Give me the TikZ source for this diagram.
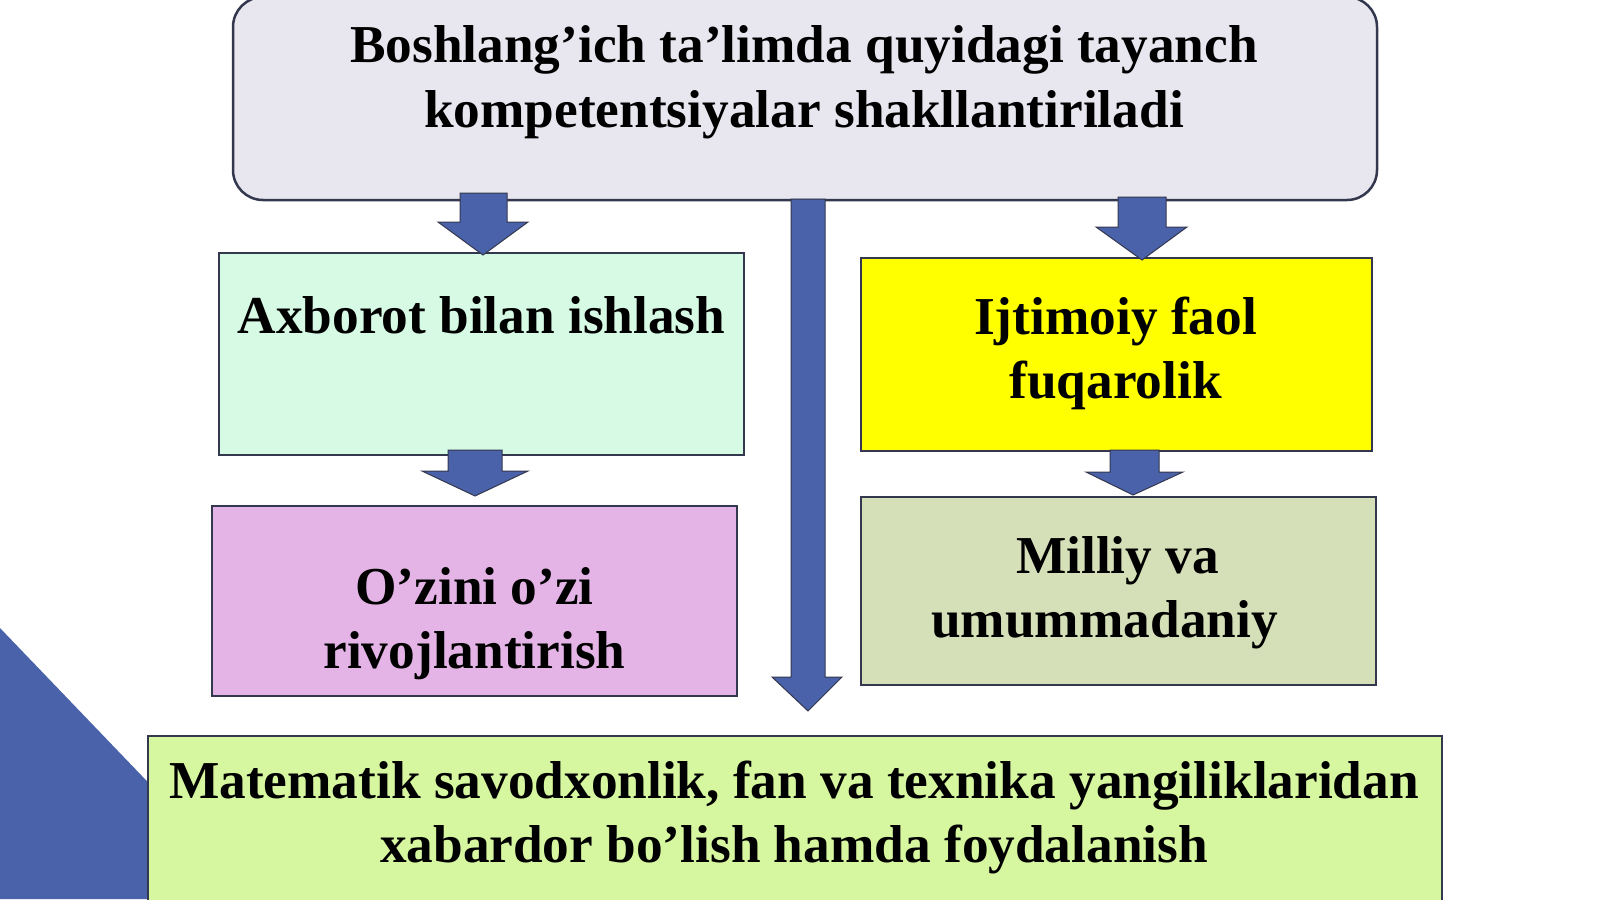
\documentclass[tikz,border=0pt]{standalone}
\usepackage{fontspec}
\setmainfont{Liberation Serif}
\definecolor{edge}{RGB}{52,56,78}
\definecolor{topfill}{RGB}{232,230,238}
\definecolor{mint}{RGB}{214,250,228}
\definecolor{yel}{RGB}{255,255,0}
\definecolor{orchid}{RGB}{228,180,230}
\definecolor{sage}{RGB}{214,224,184}
\definecolor{lime}{RGB}{214,246,160}
\definecolor{blk}{RGB}{74,98,170}
\tikzset{
  boxn/.style={draw=edge, line width=2.5pt, rectangle, inner sep=0pt},
  txt/.style={anchor=base, inner sep=0pt, font=\fontsize{53.3}{64}\selectfont\bfseries, text=black},
  barrow/.style={fill=blk, draw=edge, line width=1pt, line join=miter}
}
\newcommand{\blockarr}[7]{% x shaft-left, shaft-right, top, head-left, head-right, head-y, tip
  \draw[barrow] (#1,#3) -- (#2,#3) -- (#2,#6) -- (#5,#6) -- (#7) -- (#4,#6) -- (#1,#6) -- cycle;}
\begin{document}
\begin{tikzpicture}[x=1pt,y=-1pt]
\useasboundingbox (0,0) rectangle (1600,899);
\fill[white] (0,0) rectangle (1600,899);
% decorative triangle
\fill[blk] (0,628) -- (260,899) -- (0,899) -- cycle;
% boxes
\node[boxn, fill=topfill, rounded corners=30pt, minimum width=1144pt, minimum height=203pt] (top) at (805,98.5) {};
\node[boxn, fill=mint, minimum width=525pt, minimum height=202pt] (ax) at (481.5,354) {};
\node[boxn, fill=yel, minimum width=511pt, minimum height=193pt] (ij) at (1116.5,354.5) {};
\node[boxn, fill=orchid, minimum width=525pt, minimum height=190pt] (oz) at (474.5,601) {};
\node[boxn, fill=sage, minimum width=515pt, minimum height=188pt] (mi) at (1118.5,591) {};
\node[boxn, fill=lime, minimum width=1294pt, minimum height=200pt] (ma) at (795,836) {};
% texts
\node[txt] (t1) at (804,63) {Boshlang’ich ta’limda quyidagi tayanch};
\node[txt] (t2) at (804,127) {kompetentsiyalar shakllantiriladi};
\node[txt] (a1) at (481.5,333) {Axborot bilan ishlash};
\node[txt] (i1) at (1115.5,334) {Ijtimoiy faol};
\node[txt] (i2) at (1115.5,398) {fuqarolik};
\node[txt] (o1) at (474.5,604) {O’zini o’zi};
\node[txt] (o2) at (474.5,668) {rivojlantirish};
\node[txt] (m1) at (1117.5,573) {Milliy va};
\node[txt] (m2) at (1104.5,637) {umummadaniy};
\node[txt] (b1) at (794,798) {Matematik savodxonlik, fan va texnika yangiliklaridan};
\node[txt] (b2) at (794,862) {xabardor bo’lish hamda foydalanish};
% block arrows
\coordinate (tipA) at (483,255);
\coordinate (tipB) at (1142,260);
\coordinate (tipC) at (475,496);
\coordinate (tipD) at (1133,495);
\coordinate (tipE) at (808,711);
\blockarr{460}{507}{193}{438}{528}{222}{tipA}
\blockarr{1118}{1166}{197}{1096}{1187}{227}{tipB}
\blockarr{448}{502}{450}{422}{528}{471}{tipC}
\blockarr{1110}{1159}{450}{1086}{1183}{472}{tipD}
\blockarr{791}{825}{199}{772}{842}{677}{tipE}
\end{tikzpicture}
\end{document}
